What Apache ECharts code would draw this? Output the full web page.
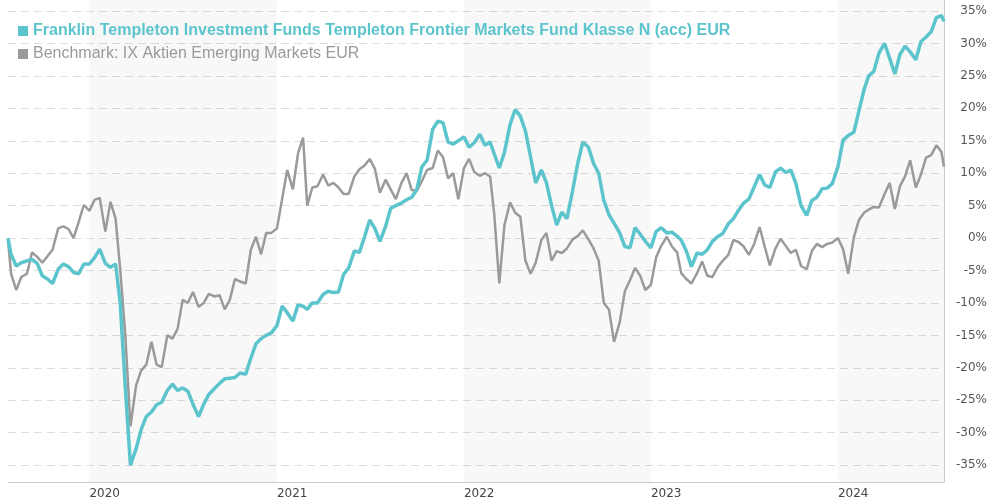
<!DOCTYPE html>
<html>
<head>
<meta charset="utf-8">
<script src="https://cdn.jsdelivr.net/npm/echarts@6/dist/echarts.min.js"></script>
<style>
  html, body { margin: 0; padding: 0; background: #fff; }
  #chart { width: 990px; height: 500px; }
</style>
</head>
<body>
<div id="chart"></div>
<script>
var dates = [
  "2019-07-26",
  "2019-08-01", "2019-08-11", "2019-08-21", "2019-09-01", "2019-09-11", "2019-09-21",
  "2019-10-01", "2019-10-11", "2019-10-21", "2019-11-01", "2019-11-11", "2019-11-21",
  "2019-12-01", "2019-12-11", "2019-12-21",
  "2020-01-01", "2020-01-11", "2020-01-21", "2020-02-01", "2020-02-11", "2020-02-21",
  "2020-03-01", "2020-03-11", "2020-03-21", "2020-04-01", "2020-04-11", "2020-04-21",
  "2020-05-01", "2020-05-11", "2020-05-21", "2020-06-01", "2020-06-11", "2020-06-21",
  "2020-07-01", "2020-07-11", "2020-07-21", "2020-08-01", "2020-08-11", "2020-08-21",
  "2020-09-01", "2020-09-11", "2020-09-21", "2020-10-01", "2020-10-11", "2020-10-21",
  "2020-11-01", "2020-11-11", "2020-11-21", "2020-12-01", "2020-12-11", "2020-12-21",
  "2021-01-01", "2021-01-11", "2021-01-21", "2021-02-01", "2021-02-11", "2021-02-21",
  "2021-03-01", "2021-03-11", "2021-03-21", "2021-04-01", "2021-04-11", "2021-04-21",
  "2021-05-01", "2021-05-11", "2021-05-21", "2021-06-01", "2021-06-11", "2021-06-21",
  "2021-07-01", "2021-07-11", "2021-07-21", "2021-08-01", "2021-08-11", "2021-08-21",
  "2021-09-01", "2021-09-11", "2021-09-21", "2021-10-01", "2021-10-11", "2021-10-21",
  "2021-11-01", "2021-11-11", "2021-11-21", "2021-12-01", "2021-12-11", "2021-12-21",
  "2022-01-01", "2022-01-11", "2022-01-21", "2022-02-01", "2022-02-11", "2022-02-21",
  "2022-03-01", "2022-03-11", "2022-03-21", "2022-04-01", "2022-04-11", "2022-04-21",
  "2022-05-01", "2022-05-11", "2022-05-21", "2022-06-01", "2022-06-11", "2022-06-21",
  "2022-07-01", "2022-07-11", "2022-07-21", "2022-08-01", "2022-08-11", "2022-08-21",
  "2022-09-01", "2022-09-11", "2022-09-21", "2022-10-01", "2022-10-11", "2022-10-21",
  "2022-11-01", "2022-11-11", "2022-11-21", "2022-12-01", "2022-12-11", "2022-12-21",
  "2023-01-01", "2023-01-11", "2023-01-21", "2023-02-01", "2023-02-11", "2023-02-21",
  "2023-03-01", "2023-03-11", "2023-03-21", "2023-04-01", "2023-04-11", "2023-04-21",
  "2023-05-01", "2023-05-11", "2023-05-21", "2023-06-01", "2023-06-11", "2023-06-21",
  "2023-07-01", "2023-07-11", "2023-07-21", "2023-08-01", "2023-08-11", "2023-08-21",
  "2023-09-01", "2023-09-11", "2023-09-21", "2023-10-01", "2023-10-11", "2023-10-21",
  "2023-11-01", "2023-11-11", "2023-11-21", "2023-12-01", "2023-12-11", "2023-12-21",
  "2024-01-01", "2024-01-11", "2024-01-21", "2024-02-01", "2024-02-11", "2024-02-21",
  "2024-03-01", "2024-03-11", "2024-03-21", "2024-04-01", "2024-04-11", "2024-04-21",
  "2024-05-01", "2024-05-11", "2024-05-21", "2024-06-01", "2024-06-11", "2024-06-21",
  "2024-07-01", "2024-07-11", "2024-07-21", "2024-07-26"
];

var fundValues = [
  0,
  -2.5, -4.3, -3.8, -3.5, -3.3, -3.9,
  -5.8, -6.3, -7.0, -4.8, -4.0, -4.4,
  -5.3, -5.5, -4.0,
  -4.0, -3.0, -1.7, -3.9, -4.5, -4.0,
  -10, -23, -35.0, -32.5, -29.5, -27.5,
  -26.8, -25.7, -25.3, -23.5, -22.5, -23.5,
  -23.1, -23.6, -25.6, -27.5, -25.6, -24.1,
  -23.2, -22.4, -21.7, -21.6, -21.5, -20.8,
  -21, -18.5, -16.3, -15.5, -15, -14.6,
  -13.5, -10.5, -11.5, -12.8, -10.3, -10.5,
  -11, -10, -10, -8.7, -8.2, -8.4,
  -8.3, -5.6, -4.6, -2, -2.2, 0.2,
  2.8, 1.5, -0.5, 1.8, 4.6, 5,
  5.4, 5.9, 6.3, 7.5, 11, 12,
  16.8, 18, 17.8, 14.8, 14.5, 15,
  15.6, 14, 14.7, 16, 14.3, 14.8,
  13, 10.8, 13.2, 17.5, 19.8, 18.8,
  16.5, 12.5, 8.5, 10.5, 8.5, 5,
  2, 4, 3, 7.3, 11.5, 14.8,
  14, 11.5, 10, 5.8, 3.6, 2.3,
  0.8, -1.3, -1.5, 1.6, 0.6, -0.5,
  -1.5, 1, 1.6, 0.8, 0.9, 0.3,
  -0.3, -2, -4.4, -2.3, -2.5, -1.8,
  -0.5, 0.2, 0.7, 2.2, 3, 4.3,
  5.4, 6, 7.8, 9.8, 8.2, 7.8,
  10.2, 10.8, 10.1, 10.5, 8.4, 5,
  3.5, 5.8, 6.3, 7.6, 7.7, 8.4,
  11, 15.1, 15.8, 16.3, 19.6, 22.9,
  25, 25.7, 28.5, 30, 27.7, 25.3,
  28.3, 29.6, 28.7, 27.5, 30.3, 31,
  31.8, 34, 34.3, 33.4
];

var benchValues = [
  -0.3,
  -5.5, -8, -6, -5.5, -2.2, -2.9,
  -3.8, -2.8, -1.8, 1.5, 1.8, 1.4,
  0.0, 2.5, 5.1,
  4.2, 5.9, 6.2, 1.0, 5.6, 3.0,
  -4.8, -15, -29, -22.7, -20.4, -19.5,
  -16, -19.5, -19.9, -15, -15.5, -14,
  -9.5, -10, -8.3, -10.6, -10, -8.6,
  -9, -8.8, -11, -9.5, -6.3, -6.7,
  -7, -1.8, 0.2, -2.5, 0.8, 0.8,
  1.5, 6, 10.5, 7.5, 13, 15.5,
  5, 7.8, 8, 9.8, 8.1, 8.5,
  7.8, 6.8, 6.8, 9.5, 10.6, 11.2,
  12.2, 10.7, 7, 9, 7.5, 6,
  8.5, 10, 7.4, 7.3, 8.8, 10.5,
  10.8, 13.5, 12.5, 9.2, 10, 6,
  10.8, 12.2, 10.2, 9.6, 10, 9.5,
  3.8, -7, 2, 5.5, 3.9, 3.3,
  -3.5, -5.5, -3.8, -0.3, 0.8, -3.5,
  -2, -2.3, -1.6, -0.2, 0.3, 1.2,
  -0.2, -1.6, -3.5, -10, -11, -16,
  -13, -8.2, -6.5, -4.6, -5.8, -8,
  -7.2, -3, -1.2, 0.2, -1.3, -2.2,
  -5.4, -6.3, -7, -5.4, -3.6, -5.8,
  -6, -4.5, -3.5, -2.6, -0.3, -0.6,
  -1.3, -2.6, -1, 1.7, -1.3, -4.2,
  -1.6, -0.1, -1.2, -2.3, -1.8, -4.3,
  -4.8, -2, -0.9, -1.4, -0.9, -0.7,
  0, -1.7, -5.5, 0.1, 2.8, 3.9,
  4.4, 4.8, 4.7, 6.8, 8.5, 4.5,
  8, 9.5, 12, 7.8, 9.8, 12.4,
  12.8, 14.3, 13.3, 11
];

// graue Hinterlegung jedes zweiten Jahres
var yearBands = [
  ["2020-01-01", "2021-01-01"],
  ["2022-01-01", "2023-01-01"],
  ["2024-01-01", "2024-07-26"]
];

var fundName = "Franklin Templeton Investment Funds Templeton Frontier Markets Fund Klasse N (acc) EUR";
var benchName = "Benchmark: IX Aktien Emerging Markets EUR";
var teal = "#5cc4cc";
var grey = "#9a9a9a";

var myChart = echarts.init(document.getElementById("chart"));

var option = {
  animation: false,
  grid: { left: 8, right: 42, top: 0, bottom: 18 },
  legend: {
    orient: "vertical",
    left: 13,
    top: 18,
    icon: "rect",
    itemWidth: 10,
    itemHeight: 10,
    itemGap: 7,
    selectedMode: false,
    textStyle: { fontFamily: "Liberation Sans", fontSize: 16, lineHeight: 16 },
    data: [
      { name: fundName, textStyle: { color: teal, fontWeight: "bold" } },
      { name: benchName, textStyle: { color: grey } }
    ]
  },
  xAxis: {
    type: "time",
    min: dates[0],
    max: dates[dates.length - 1],
    splitNumber: 5,
    minInterval: 365 * 24 * 3600 * 1000,
    maxInterval: 366 * 24 * 3600 * 1000,
    axisLine: { onZero: false, lineStyle: { color: "#cccccc" } },
    axisTick: { show: false },
    splitLine: { show: false },
    axisLabel: {
      align: "left",
      margin: 6,
      color: "#444",
      fontFamily: "DejaVu Sans",
      fontSize: 12,
      showMinLabel: false,
      showMaxLabel: false,
      formatter: function (v) {
        var d = new Date(v);
        return d.getMonth() === 0 && d.getDate() === 1 ? String(d.getFullYear()) : "";
      }
    }
  },
  yAxis: {
    type: "value",
    position: "right",
    min: -37.6,
    max: 36.7,
    splitNumber: 15,
    minInterval: 5,
    maxInterval: 5,
    axisLine: { show: true, lineStyle: { color: "#cccccc" } },
    axisTick: { show: false },
    axisLabel: {
      align: "right",
      margin: 43,
      color: "#555",
      fontFamily: "DejaVu Sans",
      fontSize: 12,
      formatter: function (v) {
        return v % 5 === 0 ? v + "%" : "";
      }
    },
    splitLine: {
      show: true,
      showMinLine: false,
      showMaxLine: false,
      lineStyle: { color: "#dedede", type: [8, 5] }
    }
  },
  series: [
    {
      name: benchName,
      type: "line",
      showSymbol: false,
      data: dates.map(function (d, i) { return [d, benchValues[i]]; }),
      lineStyle: { width: 2.5, color: grey },
      itemStyle: { color: grey },
      markArea: {
        silent: true,
        itemStyle: { color: "rgba(0,0,0,0.028)" },
        data: yearBands.map(function (b) { return [{ xAxis: b[0] }, { xAxis: b[1] }]; })
      }
    },
    {
      name: fundName,
      type: "line",
      showSymbol: false,
      data: dates.map(function (d, i) { return [d, fundValues[i]]; }),
      lineStyle: { width: 3.5, color: teal },
      itemStyle: { color: teal }
    }
  ]
};

myChart.setOption(option);
</script>
</body>
</html>
